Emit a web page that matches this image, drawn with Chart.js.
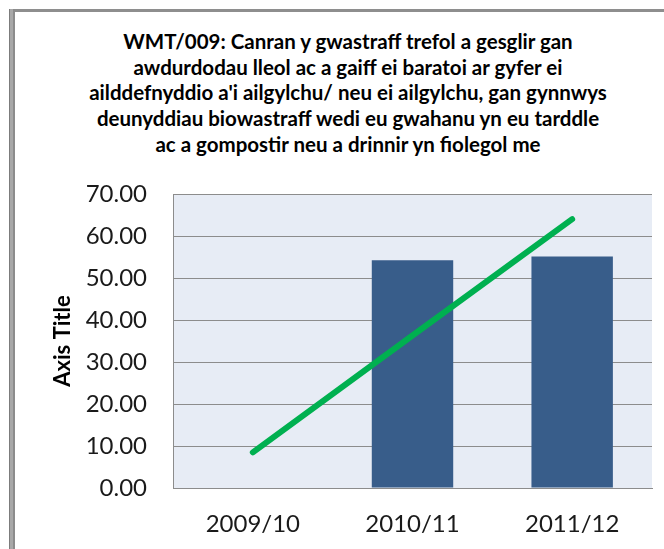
<!DOCTYPE html>
<html>
<head>
<meta charset="utf-8">
<script src="https://cdn.jsdelivr.net/npm/chart.js@4"></script>
<style>
  body { margin: 0; background: #fff; }
  #wrap { position: relative; width: 664px; height: 549px; overflow: hidden; }
  #frameLeft { position: absolute; left: 9px; top: 9px; width: 3px; bottom: 0; background: #a8a8a8; border-left: 1px solid #7c7c7c; border-right: 2px solid #8c8c8c; }
  #frameTop { position: absolute; left: 15px; top: 9px; right: 0; height: 3px; background: #8e8e8e; }
  #chartTitle { position: absolute; left: 48px; top: 29px; width: 600px; text-align: center;
    font-family: Lato, sans-serif; font-weight: bold; font-size: 20.5px; line-height: 25.7px; color: #000; }
  canvas { position: absolute; left: 0; top: 0; }
</style>
</head>
<body>
<div id="wrap">
  <div id="frameLeft"></div>
  <div id="frameTop"></div>
  <div id="chartTitle">
    WMT/009: Canran y gwastraff trefol a gesglir gan<br>
    awdurdodau lleol ac a gaiff ei baratoi ar gyfer ei<br>
    ailddefnyddio a'i ailgylchu/ neu ei ailgylchu, gan gynnwys<br>
    deunyddiau biowastraff wedi eu gwahanu yn eu tarddle<br>
    ac a gompostir neu a drinnir yn fiolegol me
  </div>
  <canvas id="wasteChart" width="664" height="549"></canvas>
</div>
<script>
// data
const years = ["2009/10", "2010/11", "2011/12"];
const barValues = [null, 54.2, 55.1];
const lineValues = [8.5, 36.3, 64.0];
const yTicks = [0, 10, 20, 30, 40, 50, 60, 70];

const wasteChart = document.getElementById("wasteChart");

// light plot background like the excel chart
const plotBg = {
  id: "plotBg",
  beforeDraw(chart) {
    const { ctx, chartArea: a } = chart;
    ctx.save();
    ctx.fillStyle = "#e7ecf5";
    ctx.fillRect(a.left, a.top, a.right - a.left, a.bottom - a.top);
    ctx.restore();
  },
};

new Chart(wasteChart, {
  type: "bar",
  data: {
    labels: years,
    datasets: [
      {
        type: "line",
        data: lineValues,
        borderColor: "#00b050",
        borderWidth: 6,
        borderCapStyle: "round",
        pointRadius: 0,
        fill: false,
        order: 1,
      },
      {
        data: barValues,
        backgroundColor: "#385d8a",
        barPercentage: 0.51,
        categoryPercentage: 1,
        order: 2,
      },
    ],
  },
  options: {
    responsive: false,
    animation: false,
    layout: { padding: { top: 194, right: 12, left: 0, bottom: 0 } },
    plugins: {
      legend: { display: false },
      tooltip: { enabled: false },
    },
    scales: {
      x: {
        grid: { display: false },
        border: { display: true, color: "#8c8c8c", width: 1 },
        ticks: {
          color: "#1a1a1a",
          padding: 14,
          font: { family: "Lato", size: 24 },
        },
        afterFit: (scale) => { scale.height = 61; },
      },
      y: {
        min: yTicks[0],
        max: yTicks[yTicks.length - 1],
        afterBuildTicks: (scale) => { scale.ticks = yTicks.map((v) => ({ value: v })); },
        grid: { color: "#8c8c8c", lineWidth: 1, drawTicks: false },
        border: { display: true, color: "#8c8c8c", width: 1 },
        ticks: {
          color: "#1a1a1a",
          padding: 26,
          font: { family: "Lato", size: 24 },
          callback: (v) => Number(v).toFixed(2),
        },
        title: {
          display: true,
          text: "Axis Title",
          color: "#000",
          font: { family: "Lato", size: 22, weight: "bold" },
          padding: { top: 50, bottom: 0 },
        },
        afterFit: (scale) => { scale.width = 173; },
      },
    },
  },
  plugins: [plotBg],
});
</script>
</body>
</html>
